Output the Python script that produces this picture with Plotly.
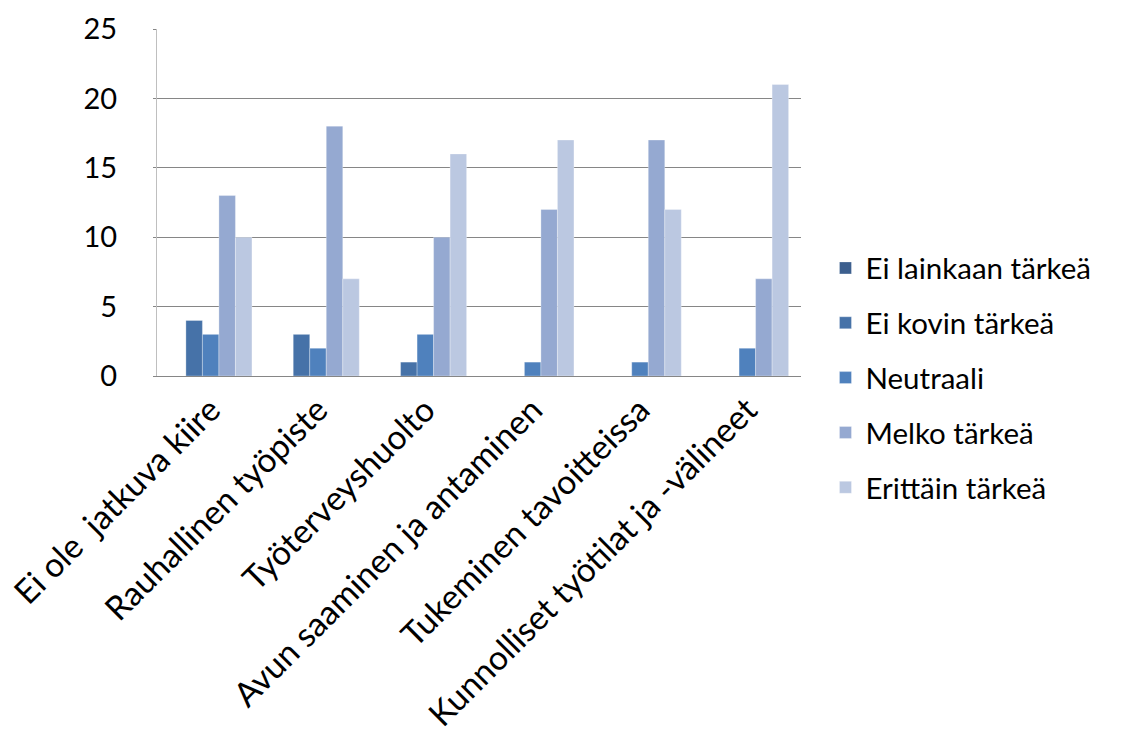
import plotly.graph_objects as go

categories = ["Ei ole  jatkuva kiire", "Rauhallinen työpiste", "Työterveyshuolto",
              "Avun saaminen ja antaminen", "Tukeminen tavoitteissa",
              "Kunnolliset työtilat ja -välineet"]
series_names = ["Ei lainkaan tärkeä", "Ei kovin tärkeä", "Neutraali", "Melko tärkeä", "Erittäin tärkeä"]
ei_lainkaan = [0, 0, 0, 0, 0, 0]
ei_kovin = [4, 3, 1, 0, 0, 0]
neutraali = [3, 2, 3, 1, 1, 2]
melko = [13, 18, 10, 12, 17, 7]
erittain = [10, 7, 16, 17, 12, 21]
y_ticks = [0, 5, 10, 15, 20, 25]

colors = ["#3C5F8E", "#4672A8", "#4F81BD", "#95A9D1", "#BBC8E1"]
values = [ei_lainkaan, ei_kovin, neutraali, melko, erittain]

FONT = "Lato"
fig = go.Figure()
for i, (name, vals) in enumerate(zip(series_names, values)):
    fig.add_trace(go.Bar(
        x=categories, y=vals, name=name,
        marker=dict(color=colors[i], line=dict(color="rgba(255,255,255,0.5)", width=0.6)),
        legendgroup=name,
    ))

fig.update_layout(
    width=1124, height=736,
    margin=dict(l=157, r=323, t=29, b=360),
    paper_bgcolor="white", plot_bgcolor="white",
    barmode="group", bargap=0.2308, bargroupgap=0,
    font=dict(family=FONT, size=29, color="#000000"),
    showlegend=True,
    legend=dict(x=1.038, y=-0.005, xanchor="left", yanchor="middle",
                font=dict(family=FONT, size=29.5, color="#000000"),
                tracegroupgap=13.5, traceorder="grouped", itemwidth=30),
)
fig.update_xaxes(
    tickangle=-45, showline=True, linecolor="#868686", linewidth=1,
    showgrid=False, ticks="", tickfont=dict(family=FONT, size=33.5), automargin=False,
)
fig.update_yaxes(
    range=[0, 25], tickvals=y_ticks, showgrid=True, gridcolor="#868686", gridwidth=1,
    showline=True, linecolor="#BFBFBF", linewidth=1, mirror=False,
    ticks="outside", ticklen=3, tickcolor="#868686", automargin=False,
    tickfont=dict(family=FONT, size=29), ticklabelstandoff=30, zeroline=False,
)
fig.write_html("out.html")
